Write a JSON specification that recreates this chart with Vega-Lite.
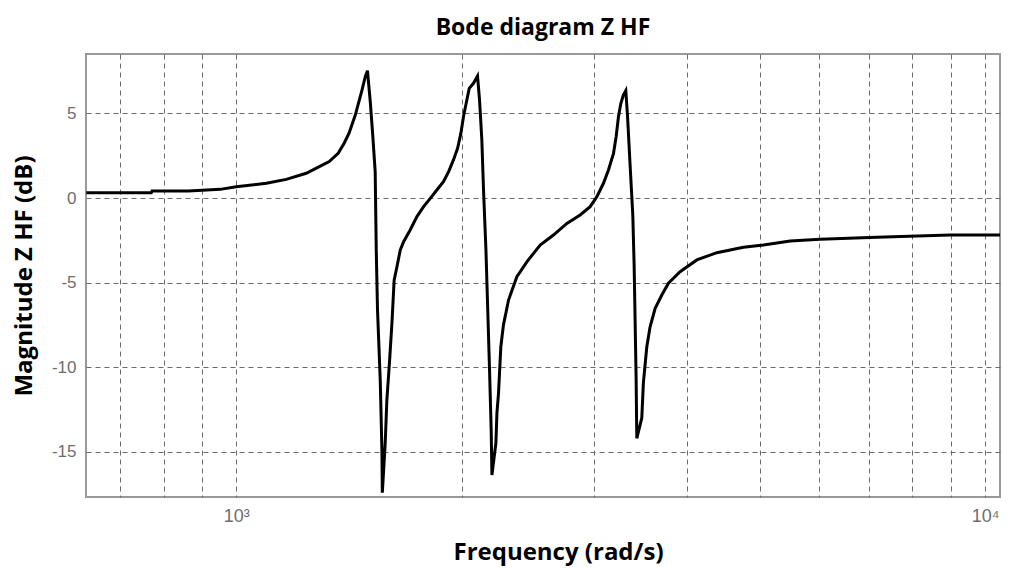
{
  "$schema": "https://vega.github.io/schema/vega-lite/v6.json",
  "width": 914,
  "height": 443,
  "autosize": {"type": "none"},
  "padding": {"left": 86, "top": 54, "right": 23, "bottom": 71},
  "background": "white",
  "title": {"text": "Bode diagram Z HF", "font": "Open Sans", "fontSize": 23, "fontWeight": "bold", "color": "#000000", "offset": 14, "anchor": "middle"},
  "data": {"values": [
    {"frequency": 630.5, "magnitude": 0.31},
    {"frequency": 770, "magnitude": 0.31},
    {"frequency": 772, "magnitude": 0.41},
    {"frequency": 863, "magnitude": 0.41},
    {"frequency": 952, "magnitude": 0.51},
    {"frequency": 1000, "magnitude": 0.67},
    {"frequency": 1097, "magnitude": 0.87},
    {"frequency": 1166, "magnitude": 1.1},
    {"frequency": 1240, "magnitude": 1.46},
    {"frequency": 1291, "magnitude": 1.85},
    {"frequency": 1331, "magnitude": 2.15},
    {"frequency": 1368, "magnitude": 2.64},
    {"frequency": 1394, "magnitude": 3.25},
    {"frequency": 1415, "magnitude": 3.84},
    {"frequency": 1442, "magnitude": 4.9},
    {"frequency": 1472, "magnitude": 6.38},
    {"frequency": 1487, "magnitude": 7.17},
    {"frequency": 1497, "magnitude": 7.52},
    {"frequency": 1510, "magnitude": 5.69},
    {"frequency": 1522, "magnitude": 3.62},
    {"frequency": 1533, "magnitude": 1.55},
    {"frequency": 1538, "magnitude": -3.07},
    {"frequency": 1544, "magnitude": -6.62},
    {"frequency": 1557, "magnitude": -10.76},
    {"frequency": 1565, "magnitude": -14.89},
    {"frequency": 1567, "magnitude": -17.42},
    {"frequency": 1581, "magnitude": -14.48},
    {"frequency": 1589, "magnitude": -11.94},
    {"frequency": 1602, "magnitude": -9.68},
    {"frequency": 1614, "magnitude": -7.39},
    {"frequency": 1625, "magnitude": -4.85},
    {"frequency": 1639, "magnitude": -4.06},
    {"frequency": 1656, "magnitude": -3.07},
    {"frequency": 1673, "magnitude": -2.58},
    {"frequency": 1707, "magnitude": -1.89},
    {"frequency": 1743, "magnitude": -1.1},
    {"frequency": 1779, "magnitude": -0.51},
    {"frequency": 1816, "magnitude": -0.02},
    {"frequency": 1853, "magnitude": 0.47},
    {"frequency": 1891, "magnitude": 0.96},
    {"frequency": 1921, "magnitude": 1.55},
    {"frequency": 1950, "magnitude": 2.25},
    {"frequency": 1975, "magnitude": 2.94},
    {"frequency": 1995, "magnitude": 3.82},
    {"frequency": 2011, "magnitude": 4.8},
    {"frequency": 2032, "magnitude": 5.79},
    {"frequency": 2047, "magnitude": 6.48},
    {"frequency": 2074, "magnitude": 6.78},
    {"frequency": 2100, "magnitude": 7.21},
    {"frequency": 2113, "magnitude": 5.79},
    {"frequency": 2128, "magnitude": 3.43},
    {"frequency": 2139, "magnitude": 0.47},
    {"frequency": 2155, "magnitude": -3.07},
    {"frequency": 2165, "magnitude": -6.03},
    {"frequency": 2179, "magnitude": -10.17},
    {"frequency": 2190, "magnitude": -13.71},
    {"frequency": 2195, "magnitude": -16.37},
    {"frequency": 2222, "magnitude": -14.48},
    {"frequency": 2229, "magnitude": -12.71},
    {"frequency": 2240, "magnitude": -11.53},
    {"frequency": 2256, "magnitude": -8.79},
    {"frequency": 2274, "magnitude": -7.51},
    {"frequency": 2310, "magnitude": -6.03},
    {"frequency": 2370, "magnitude": -4.65},
    {"frequency": 2444, "magnitude": -3.77},
    {"frequency": 2546, "magnitude": -2.78},
    {"frequency": 2652, "magnitude": -2.19},
    {"frequency": 2764, "magnitude": -1.5},
    {"frequency": 2879, "magnitude": -1.0},
    {"frequency": 2969, "magnitude": -0.51},
    {"frequency": 3031, "magnitude": 0.08},
    {"frequency": 3093, "magnitude": 0.87},
    {"frequency": 3141, "magnitude": 1.66},
    {"frequency": 3190, "magnitude": 2.64},
    {"frequency": 3216, "magnitude": 3.62},
    {"frequency": 3239, "magnitude": 4.8},
    {"frequency": 3263, "magnitude": 5.6},
    {"frequency": 3289, "magnitude": 6.09},
    {"frequency": 3313, "magnitude": 6.34},
    {"frequency": 3330, "magnitude": 4.9},
    {"frequency": 3357, "magnitude": 1.95},
    {"frequency": 3385, "magnitude": -1.0},
    {"frequency": 3399, "magnitude": -3.96},
    {"frequency": 3409, "magnitude": -7.21},
    {"frequency": 3420, "magnitude": -10.76},
    {"frequency": 3427, "magnitude": -14.2},
    {"frequency": 3480, "magnitude": -13.0},
    {"frequency": 3497, "magnitude": -10.93},
    {"frequency": 3534, "magnitude": -8.79},
    {"frequency": 3570, "magnitude": -7.61},
    {"frequency": 3626, "magnitude": -6.52},
    {"frequency": 3701, "magnitude": -5.73},
    {"frequency": 3777, "magnitude": -5.04},
    {"frequency": 3915, "magnitude": -4.36},
    {"frequency": 4122, "magnitude": -3.66},
    {"frequency": 4384, "magnitude": -3.23},
    {"frequency": 4757, "magnitude": -2.91},
    {"frequency": 5058, "magnitude": -2.78},
    {"frequency": 5492, "magnitude": -2.54},
    {"frequency": 6022, "magnitude": -2.44},
    {"frequency": 7168, "magnitude": -2.32},
    {"frequency": 8980, "magnitude": -2.19},
    {"frequency": 10470, "magnitude": -2.19}
  ]},
  "mark": {"type": "line", "color": "#000000", "strokeWidth": 3, "clip": true},
  "encoding": {
    "x": {
      "field": "frequency",
      "type": "quantitative",
      "scale": {"type": "log", "domain": [630, 10470], "nice": false},
      "axis": {
        "values": [700, 800, 900, 1000, 2000, 3000, 4000, 5000, 6000, 7000, 8000, 9000, 10000],
        "labelExpr": "datum.value == 1000 ? '10³' : (datum.value == 10000 ? '10⁴' : '')",
        "labelOverlap": false,
        "labelFlush": false,
        "labelPadding": 10,
        "labelFontSize": 18,
        "title": "Frequency (rad/s)",
        "titleX": 472,
        "titleY": 62,
        "titleBaseline": "alphabetic"
      }
    },
    "y": {
      "field": "magnitude",
      "type": "quantitative",
      "scale": {"domain": [-17.67, 8.51], "nice": false, "zero": false},
      "axis": {
        "values": [-15, -10, -5, 0, 5],
        "labelExpr": "'' + datum.value",
        "labelPadding": 10,
        "title": "Magnitude Z HF (dB)",
        "titleX": -55,
        "titleY": 221.5,
        "titleAngle": -90,
        "titleAlign": "center",
        "titleBaseline": "alphabetic"
      }
    }
  },
  "config": {
    "view": {"stroke": "#999999", "strokeWidth": 2},
    "axis": {
      "grid": true,
      "gridColor": "#6a6a6a",
      "gridDash": [5, 4],
      "gridWidth": 1,
      "gridOpacity": 1,
      "domain": false,
      "ticks": false,
      "labelFont": "Liberation Sans",
      "labelFontSize": 17,
      "labelColor": "#6e6e6e",
      "titleFont": "Open Sans",
      "titleFontSize": 24,
      "titleFontWeight": "bold",
      "titleColor": "#000000"
    }
  }
}
